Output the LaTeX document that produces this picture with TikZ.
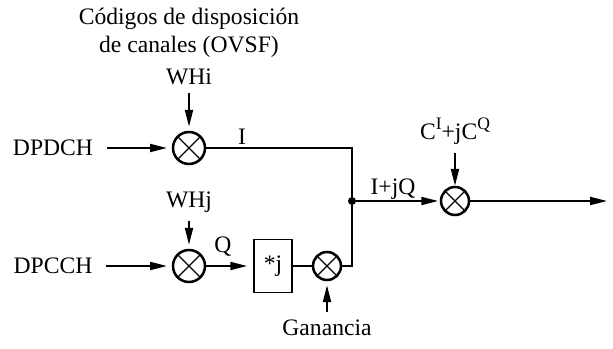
\documentclass[tikz,border=0pt]{standalone}
\usepackage{fontspec}
\setmainfont{Liberation Serif}
\usetikzlibrary{arrows.meta, positioning}
\newcommand{\supertext}[1]{\raisebox{0.42em}{\fontsize{12.5}{14}\selectfont #1}}

\begin{document}
\begin{tikzpicture}[
			on grid,
			font=\fontsize{16.8}{19.9}\selectfont,
			mixer/.style={circle, draw, line width=1.8pt, inner sep=0pt, minimum size=0.8cm,
				path picture={\draw[line width=1pt] (path picture bounding box.north west) -- (path picture bounding box.south east)
					(path picture bounding box.north east) -- (path picture bounding box.south west);}},
			smallmixer/.style={mixer, minimum size=0.7cm},
			block/.style={rectangle, draw, line width=1.3pt, minimum width=0.95cm, minimum height=1.325cm, inner sep=0pt},
			label/.style={inner sep=0pt, align=center},
			arrow/.style={-{Triangle[length=0.42cm, width=0.2cm]}, line width=1.3pt},
			wire/.style={line width=0.8pt},
			dot/.style={circle, fill=black, inner sep=0pt, minimum size=0.2cm}
			]
			\useasboundingbox (-4.725,3.7) rectangle (10.6,-5.025);
			\node[mixer] (mi) at (0,0) {};
			\node[mixer, below=2.95cm of mi] (mj) {};
			\node[block, right=2.1cm of mj] (prod) {*j};
			\node[smallmixer, right=1.35cm of prod] (gain) {};
			\node[dot, below right=1.325cm and 4.075cm of mi] (join) {};
			\node[smallmixer, right=2.575cm of join] (scr) {};
			\coordinate[right=3.8cm of scr] (out);
			
			\node[label, left=3.4cm of mi] (dpdch) {DPDCH};
			\node[label, left=3.4cm of mj] (dpcch) {DPCCH};
			\node[label, above=1.775cm of mi] (whi) {WHi};
			\node[label, above=1.6cm of mj] (whj) {WHj};
			\node[label, above=2.87cm of mi] (ovsf) {Códigos de disposición\\de canales (OVSF)};
			\node[label, above=1.75cm of scr] (cjc) {C\supertext{I}+jC\supertext{Q}};
			\node[label, below=1.55cm of gain] (ganancia) {Ganancia};
			\node[label, above right=0.275cm and 1.325cm of mi] (li) {I};
			\node[label, above right=0.475cm and 0.85cm of mj] (lq) {Q};
			\node[label, above right=0.3cm and 1.025cm of join] (liq) {I+jQ};
			
			\draw[arrow, shorten <=0.34cm, shorten >=0.12cm] (dpdch) -- (mi);
			\draw[arrow, shorten <=0.34cm, shorten >=0.12cm] (dpcch) -- (mj);
			\draw[arrow, shorten <=0.2cm, shorten >=0.1cm] (whi) -- (mi);
			\draw[arrow, shorten <=0.2cm, shorten >=0.1cm] (whj) -- (mj);
			\draw[arrow, shorten >=0.15cm] (mj) -- (prod);
			\draw[wire] (prod) -- (gain);
			\draw[wire] (mi) -| (join);
			\draw[wire] (gain) -| (join);
			\draw[arrow, shorten >=0.04cm] (join) -- (scr);
			\draw[arrow, shorten <=0.2cm] (cjc) -- (scr);
			\draw[arrow, shorten <=0.2cm, shorten >=0.1cm] (ganancia) -- (gain);
			\draw[arrow] (scr) -- (out);
		\end{tikzpicture}
\end{document}
